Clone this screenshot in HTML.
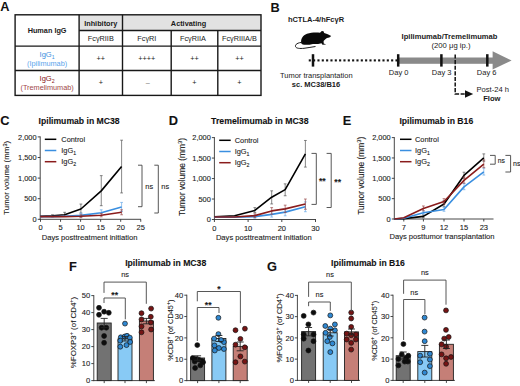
<!DOCTYPE html>
<html><head><meta charset="utf-8"><style>
html,body{margin:0;padding:0;background:#fff;width:520px;height:386px;overflow:hidden}
svg{display:block}
text{font-family:"Liberation Sans",sans-serif}
</style></head><body>
<svg width="520" height="386" viewBox="0 0 520 386">
<rect width="520" height="386" fill="#fff"/>
<text x="0.20" y="10.90" font-size="12.8" text-anchor="start" font-weight="bold" fill="#111" stroke="#111" stroke-width="0" >A</text>
<rect x="79.1" y="14.8" width="181.9" height="15.7" fill="#e2e2e2"/>
<rect x="15.1" y="14.8" width="245.9" height="80.60000000000001" fill="none" stroke="#181818" stroke-width="1.4"/>
<line x1="79.10" y1="14.80" x2="79.10" y2="95.40" stroke="#181818" stroke-width="1.4" />
<line x1="122.50" y1="14.80" x2="122.50" y2="95.40" stroke="#181818" stroke-width="1.4" />
<line x1="171.20" y1="30.50" x2="171.20" y2="95.40" stroke="#181818" stroke-width="1.4" />
<line x1="217.80" y1="30.50" x2="217.80" y2="95.40" stroke="#181818" stroke-width="1.4" />
<line x1="79.10" y1="30.50" x2="261.00" y2="30.50" stroke="#181818" stroke-width="1.4" />
<line x1="15.10" y1="46.10" x2="261.00" y2="46.10" stroke="#181818" stroke-width="1.4" />
<line x1="15.10" y1="70.50" x2="261.00" y2="70.50" stroke="#181818" stroke-width="1.4" />
<text x="47.10" y="33.30" font-size="7.3" text-anchor="middle" font-weight="bold" fill="#1a1a1a" stroke="#1a1a1a" stroke-width="0" >Human IgG</text>
<text x="100.80" y="25.70" font-size="7.3" text-anchor="middle" font-weight="bold" fill="#1a1a1a" stroke="#1a1a1a" stroke-width="0" >Inhibitory</text>
<text x="188.50" y="25.60" font-size="7.3" text-anchor="middle" font-weight="bold" fill="#1a1a1a" stroke="#1a1a1a" stroke-width="0" >Activating</text>
<text x="100.80" y="40.80" font-size="7.3" text-anchor="middle" font-weight="normal" fill="#1a1a1a" stroke="#1a1a1a" stroke-width="0" >FcγRIIB</text>
<text x="146.85" y="40.80" font-size="7.3" text-anchor="middle" font-weight="normal" fill="#1a1a1a" stroke="#1a1a1a" stroke-width="0" >FcγRI</text>
<text x="193.00" y="40.80" font-size="7.3" text-anchor="middle" font-weight="normal" fill="#1a1a1a" stroke="#1a1a1a" stroke-width="0" >FcγRIIA</text>
<text x="239.40" y="40.80" font-size="7.3" text-anchor="middle" font-weight="normal" fill="#1a1a1a" stroke="#1a1a1a" stroke-width="0" >FcγRIIIA/B</text>
<text x="47.10" y="56.80" font-size="7.6" text-anchor="middle" font-weight="normal" fill="#3d8fe0" stroke="#3d8fe0" stroke-width="0" >IgG<tspan font-size="5.2" dy="1.8">1</tspan></text>
<text x="47.10" y="65.60" font-size="7.3" text-anchor="middle" font-weight="normal" fill="#5aa5ec" stroke="#5aa5ec" stroke-width="0" >(Ipilimumab)</text>
<text x="47.10" y="80.80" font-size="7.6" text-anchor="middle" font-weight="normal" fill="#8a2020" stroke="#8a2020" stroke-width="0" >IgG<tspan font-size="5.2" dy="1.8">2</tspan></text>
<text x="47.10" y="90.20" font-size="7.3" text-anchor="middle" font-weight="normal" fill="#a04848" stroke="#a04848" stroke-width="0" >(Tremelimumab)</text>
<text x="100.80" y="61.00" font-size="7.3" text-anchor="middle" font-weight="normal" fill="#1a1a1a" stroke="#1a1a1a" stroke-width="0" >++</text>
<text x="146.85" y="61.00" font-size="7.3" text-anchor="middle" font-weight="normal" fill="#1a1a1a" stroke="#1a1a1a" stroke-width="0" >++++</text>
<text x="194.50" y="61.00" font-size="7.3" text-anchor="middle" font-weight="normal" fill="#1a1a1a" stroke="#1a1a1a" stroke-width="0" >++</text>
<text x="239.40" y="61.00" font-size="7.3" text-anchor="middle" font-weight="normal" fill="#1a1a1a" stroke="#1a1a1a" stroke-width="0" >++</text>
<text x="100.80" y="85.20" font-size="7.3" text-anchor="middle" font-weight="normal" fill="#1a1a1a" stroke="#1a1a1a" stroke-width="0" >+</text>
<text x="147.85" y="85.20" font-size="7.3" text-anchor="middle" font-weight="normal" fill="#777" stroke="#777" stroke-width="0" >–</text>
<text x="194.50" y="85.20" font-size="7.3" text-anchor="middle" font-weight="normal" fill="#1a1a1a" stroke="#1a1a1a" stroke-width="0" >+</text>
<text x="239.40" y="85.20" font-size="7.3" text-anchor="middle" font-weight="normal" fill="#1a1a1a" stroke="#1a1a1a" stroke-width="0" >+</text>
<text x="270.50" y="11.60" font-size="12.8" text-anchor="start" font-weight="bold" fill="#111" stroke="#111" stroke-width="0" >B</text>
<text x="316.00" y="21.80" font-size="7.5" text-anchor="middle" font-weight="bold" fill="#1a1a1a" stroke="#1a1a1a" stroke-width="0" >hCTLA-4/hFcγR</text>
<path d="M301.3,43.2 C300.5,39 302.8,35.3 307,33.8 C311,32.4 316,32.4 320,32.7 L321.8,30.9 L323.5,31.2 L324.2,33 C326.5,33.8 329,34.8 331.2,36 C330.2,37.3 328.6,37.7 327,38.1 C325.5,39.3 324.5,40.1 323.6,41 L323.7,43.4 L326.2,44.4 L322.5,44.8 L321.5,43.2 C319,43.9 316,44.1 313,44 L309.5,44.8 L304,44.7 C302.6,44.6 301.6,44.1 301.3,43.2 Z" fill="#0a0a0a"/>
<path d="M303,42.3 C297.5,42.5 295,44.5 295.5,46.5 C296,48.5 300,48.7 304,48.3 C308,47.9 312,46.9 315.5,46.5" fill="none" stroke="#111" stroke-width="0.95"/>
<rect x="308.75" y="59.35" width="2.1" height="2.1" fill="#111"/>
<rect x="313.08" y="59.35" width="2.1" height="2.1" fill="#111"/>
<rect x="317.42" y="59.35" width="2.1" height="2.1" fill="#111"/>
<rect x="321.75" y="59.35" width="2.1" height="2.1" fill="#111"/>
<rect x="326.09" y="59.35" width="2.1" height="2.1" fill="#111"/>
<rect x="330.42" y="59.35" width="2.1" height="2.1" fill="#111"/>
<rect x="334.76" y="59.35" width="2.1" height="2.1" fill="#111"/>
<rect x="339.09" y="59.35" width="2.1" height="2.1" fill="#111"/>
<rect x="343.43" y="59.35" width="2.1" height="2.1" fill="#111"/>
<rect x="347.76" y="59.35" width="2.1" height="2.1" fill="#111"/>
<rect x="352.10" y="59.35" width="2.1" height="2.1" fill="#111"/>
<rect x="356.43" y="59.35" width="2.1" height="2.1" fill="#111"/>
<rect x="360.77" y="59.35" width="2.1" height="2.1" fill="#111"/>
<rect x="365.10" y="59.35" width="2.1" height="2.1" fill="#111"/>
<rect x="369.44" y="59.35" width="2.1" height="2.1" fill="#111"/>
<rect x="373.77" y="59.35" width="2.1" height="2.1" fill="#111"/>
<rect x="378.11" y="59.35" width="2.1" height="2.1" fill="#111"/>
<rect x="382.44" y="59.35" width="2.1" height="2.1" fill="#111"/>
<rect x="386.78" y="59.35" width="2.1" height="2.1" fill="#111"/>
<rect x="391.11" y="59.35" width="2.1" height="2.1" fill="#111"/>
<rect x="395.45" y="59.35" width="2.1" height="2.1" fill="#111"/>
<rect x="398" y="57.5" width="95.5" height="6.3" fill="#8a8a8a"/>
<polygon points="492.6,51.2 511.6,60.5 492.6,69.6" fill="#8a8a8a"/>
<rect x="311.75" y="54.2" width="2.5" height="12.4" fill="#111"/>
<rect x="396.95" y="54.2" width="2.5" height="12.4" fill="#111"/>
<rect x="440.15" y="54.2" width="2.5" height="12.4" fill="#111"/>
<rect x="486.05" y="54.2" width="2.5" height="12.4" fill="#111"/>
<text x="316.30" y="78.20" font-size="7.5" text-anchor="middle" font-weight="normal" fill="#1a1a1a" stroke="#1a1a1a" stroke-width="0" >Tumor transplantation</text>
<text x="316.00" y="87.20" font-size="7.5" text-anchor="middle" font-weight="bold" fill="#1a1a1a" stroke="#1a1a1a" stroke-width="0" >sc. MC38/B16</text>
<text x="398.60" y="75.30" font-size="7.5" text-anchor="middle" font-weight="normal" fill="#1a1a1a" stroke="#1a1a1a" stroke-width="0" >Day 0</text>
<text x="441.60" y="75.30" font-size="7.5" text-anchor="middle" font-weight="normal" fill="#1a1a1a" stroke="#1a1a1a" stroke-width="0" >Day 3</text>
<text x="486.60" y="75.30" font-size="7.5" text-anchor="middle" font-weight="normal" fill="#1a1a1a" stroke="#1a1a1a" stroke-width="0" >Day 6</text>
<text x="449.50" y="38.70" font-size="7.6" text-anchor="middle" font-weight="bold" fill="#1a1a1a" stroke="#1a1a1a" stroke-width="0" >Ipilimumab/Tremelimumab</text>
<text x="451.00" y="47.80" font-size="7.7" text-anchor="middle" font-weight="normal" fill="#1a1a1a" stroke="#1a1a1a" stroke-width="0" >(200 μg ip.)</text>
<path d="M455.2,54.5 L455.2,93.9 L466,93.9" fill="none" stroke="#111" stroke-width="1.5" stroke-dasharray="4.1,1.5"/>
<polygon points="465,90.2 473.2,94 465,97.8" fill="#111"/>
<text x="492.80" y="92.00" font-size="7.6" text-anchor="middle" font-weight="normal" fill="#1a1a1a" stroke="#1a1a1a" stroke-width="0" >Post-24 h</text>
<text x="491.80" y="101.40" font-size="7.6" text-anchor="middle" font-weight="bold" fill="#1a1a1a" stroke="#1a1a1a" stroke-width="0" >Flow</text>
<line x1="40.20" y1="136.40" x2="40.20" y2="219.80" stroke="#333" stroke-width="0.9" />
<line x1="39.70" y1="219.30" x2="141.00" y2="219.30" stroke="#333" stroke-width="0.9" />
<line x1="37.70" y1="219.30" x2="40.20" y2="219.30" stroke="#333" stroke-width="0.9" />
<text x="36.60" y="222.00" font-size="7.4" text-anchor="end" font-weight="normal" fill="#1a1a1a" stroke="#1a1a1a" stroke-width="0.1" >0</text>
<line x1="37.70" y1="198.70" x2="40.20" y2="198.70" stroke="#333" stroke-width="0.9" />
<text x="36.60" y="201.40" font-size="7.4" text-anchor="end" font-weight="normal" fill="#1a1a1a" stroke="#1a1a1a" stroke-width="0.1" >500</text>
<line x1="37.70" y1="178.10" x2="40.20" y2="178.10" stroke="#333" stroke-width="0.9" />
<text x="36.60" y="180.80" font-size="7.4" text-anchor="end" font-weight="normal" fill="#1a1a1a" stroke="#1a1a1a" stroke-width="0.1" >1,000</text>
<line x1="37.70" y1="157.50" x2="40.20" y2="157.50" stroke="#333" stroke-width="0.9" />
<text x="36.60" y="160.20" font-size="7.4" text-anchor="end" font-weight="normal" fill="#1a1a1a" stroke="#1a1a1a" stroke-width="0.1" >1,500</text>
<line x1="37.70" y1="136.90" x2="40.20" y2="136.90" stroke="#333" stroke-width="0.9" />
<text x="36.60" y="139.60" font-size="7.4" text-anchor="end" font-weight="normal" fill="#1a1a1a" stroke="#1a1a1a" stroke-width="0.1" >2,000</text>
<line x1="40.50" y1="219.30" x2="40.50" y2="221.80" stroke="#333" stroke-width="0.9" />
<text x="40.50" y="230.30" font-size="7.5" text-anchor="middle" font-weight="normal" fill="#1a1a1a" stroke="#1a1a1a" stroke-width="0.1" >0</text>
<line x1="60.55" y1="219.30" x2="60.55" y2="221.80" stroke="#333" stroke-width="0.9" />
<text x="60.55" y="230.30" font-size="7.5" text-anchor="middle" font-weight="normal" fill="#1a1a1a" stroke="#1a1a1a" stroke-width="0.1" >5</text>
<line x1="80.60" y1="219.30" x2="80.60" y2="221.80" stroke="#333" stroke-width="0.9" />
<text x="80.60" y="230.30" font-size="7.5" text-anchor="middle" font-weight="normal" fill="#1a1a1a" stroke="#1a1a1a" stroke-width="0.1" >10</text>
<line x1="100.65" y1="219.30" x2="100.65" y2="221.80" stroke="#333" stroke-width="0.9" />
<text x="100.65" y="230.30" font-size="7.5" text-anchor="middle" font-weight="normal" fill="#1a1a1a" stroke="#1a1a1a" stroke-width="0.1" >15</text>
<line x1="120.70" y1="219.30" x2="120.70" y2="221.80" stroke="#333" stroke-width="0.9" />
<text x="120.70" y="230.30" font-size="7.5" text-anchor="middle" font-weight="normal" fill="#1a1a1a" stroke="#1a1a1a" stroke-width="0.1" >20</text>
<line x1="140.75" y1="219.30" x2="140.75" y2="221.80" stroke="#333" stroke-width="0.9" />
<text x="140.75" y="230.30" font-size="7.5" text-anchor="middle" font-weight="normal" fill="#1a1a1a" stroke="#1a1a1a" stroke-width="0.1" >25</text>
<text x="89.60" y="239.70" font-size="7.6" text-anchor="middle" font-weight="normal" fill="#1a1a1a" stroke="#1a1a1a" stroke-width="0.1" >Days posttreatment initiation</text>
<text transform="translate(9.30,177.80) rotate(-90)" x="0" y="0" font-size="7.9" text-anchor="middle" fill="#1a1a1a" stroke="#1a1a1a" stroke-width="0.1">Tumor volume (mm<tspan font-size="5.53" dy="-2.77">3</tspan><tspan dy="2.77">)</tspan></text>
<text x="79.10" y="123.50" font-size="8.65" text-anchor="middle" font-weight="bold" fill="#111" stroke="#111" stroke-width="0.1" >Ipilimumab in MC38</text>
<text x="0.20" y="125.10" font-size="12.8" text-anchor="start" font-weight="bold" fill="#111" stroke="#111" stroke-width="0.1" >C</text>
<line x1="52.41" y1="216.83" x2="52.41" y2="214.77" stroke="#555" stroke-width="0.7" />
<line x1="51.01" y1="216.83" x2="53.81" y2="216.83" stroke="#555" stroke-width="0.7" />
<line x1="51.01" y1="214.77" x2="53.81" y2="214.77" stroke="#555" stroke-width="0.7" />
<line x1="64.62" y1="216.42" x2="64.62" y2="212.30" stroke="#555" stroke-width="0.7" />
<line x1="63.22" y1="216.42" x2="66.02" y2="216.42" stroke="#555" stroke-width="0.7" />
<line x1="63.22" y1="212.30" x2="66.02" y2="212.30" stroke="#555" stroke-width="0.7" />
<line x1="80.90" y1="213.12" x2="80.90" y2="204.06" stroke="#555" stroke-width="0.7" />
<line x1="79.50" y1="213.12" x2="82.30" y2="213.12" stroke="#555" stroke-width="0.7" />
<line x1="79.50" y1="204.06" x2="82.30" y2="204.06" stroke="#555" stroke-width="0.7" />
<line x1="101.25" y1="205.70" x2="101.25" y2="175.63" stroke="#555" stroke-width="0.7" />
<line x1="99.85" y1="205.70" x2="102.65" y2="205.70" stroke="#555" stroke-width="0.7" />
<line x1="99.85" y1="175.63" x2="102.65" y2="175.63" stroke="#555" stroke-width="0.7" />
<line x1="121.60" y1="192.93" x2="121.60" y2="140.20" stroke="#555" stroke-width="0.7" />
<line x1="120.20" y1="192.93" x2="123.00" y2="192.93" stroke="#555" stroke-width="0.7" />
<line x1="120.20" y1="140.20" x2="123.00" y2="140.20" stroke="#555" stroke-width="0.7" />
<polyline points="40.20,216.42 52.41,215.80 64.62,214.77 80.90,209.00 101.25,190.87 121.60,166.56" fill="none" stroke="#000" stroke-width="1.6" stroke-linejoin="round" />
<line x1="80.90" y1="217.24" x2="80.90" y2="213.12" stroke="#6aaae8" stroke-width="0.7" />
<line x1="79.50" y1="217.24" x2="82.30" y2="217.24" stroke="#6aaae8" stroke-width="0.7" />
<line x1="79.50" y1="213.12" x2="82.30" y2="213.12" stroke="#6aaae8" stroke-width="0.7" />
<line x1="101.25" y1="215.59" x2="101.25" y2="209.82" stroke="#6aaae8" stroke-width="0.7" />
<line x1="99.85" y1="215.59" x2="102.65" y2="215.59" stroke="#6aaae8" stroke-width="0.7" />
<line x1="99.85" y1="209.82" x2="102.65" y2="209.82" stroke="#6aaae8" stroke-width="0.7" />
<line x1="121.60" y1="211.47" x2="121.60" y2="202.41" stroke="#6aaae8" stroke-width="0.7" />
<line x1="120.20" y1="211.47" x2="123.00" y2="211.47" stroke="#6aaae8" stroke-width="0.7" />
<line x1="120.20" y1="202.41" x2="123.00" y2="202.41" stroke="#6aaae8" stroke-width="0.7" />
<polyline points="40.20,216.62 52.41,216.62 64.62,216.21 80.90,215.39 101.25,212.71 121.60,206.94" fill="none" stroke="#3a8fe0" stroke-width="1.6" stroke-linejoin="round" />
<line x1="80.90" y1="217.65" x2="80.90" y2="214.77" stroke="#9a4a4a" stroke-width="0.7" />
<line x1="79.50" y1="217.65" x2="82.30" y2="217.65" stroke="#9a4a4a" stroke-width="0.7" />
<line x1="79.50" y1="214.77" x2="82.30" y2="214.77" stroke="#9a4a4a" stroke-width="0.7" />
<line x1="101.25" y1="216.83" x2="101.25" y2="213.53" stroke="#9a4a4a" stroke-width="0.7" />
<line x1="99.85" y1="216.83" x2="102.65" y2="216.83" stroke="#9a4a4a" stroke-width="0.7" />
<line x1="99.85" y1="213.53" x2="102.65" y2="213.53" stroke="#9a4a4a" stroke-width="0.7" />
<line x1="121.60" y1="214.77" x2="121.60" y2="209.82" stroke="#9a4a4a" stroke-width="0.7" />
<line x1="120.20" y1="214.77" x2="123.00" y2="214.77" stroke="#9a4a4a" stroke-width="0.7" />
<line x1="120.20" y1="209.82" x2="123.00" y2="209.82" stroke="#9a4a4a" stroke-width="0.7" />
<polyline points="40.20,216.62 52.41,216.62 64.62,216.62 80.90,216.21 101.25,215.18 121.60,212.30" fill="none" stroke="#8a1c1c" stroke-width="1.6" stroke-linejoin="round" />
<line x1="44.80" y1="139.30" x2="56.30" y2="139.30" stroke="#000" stroke-width="1.5" />
<text x="61.30" y="142.00" font-size="7.4" text-anchor="start" font-weight="normal" fill="#1a1a1a" stroke="#1a1a1a" stroke-width="0.1" >Control</text>
<line x1="44.80" y1="150.50" x2="56.30" y2="150.50" stroke="#3a8fe0" stroke-width="1.5" />
<text x="61.30" y="153.20" font-size="7.4" text-anchor="start" font-weight="normal" fill="#1a1a1a" stroke="#1a1a1a" stroke-width="0.1" >IgG<tspan font-size="5.2" dy="2">1</tspan></text>
<line x1="44.80" y1="161.70" x2="56.30" y2="161.70" stroke="#8a1c1c" stroke-width="1.5" />
<text x="61.30" y="164.40" font-size="7.4" text-anchor="start" font-weight="normal" fill="#1a1a1a" stroke="#1a1a1a" stroke-width="0.1" >IgG<tspan font-size="5.2" dy="2">2</tspan></text>
<polyline points="138.00,165.20 142.00,165.20 142.00,206.70 138.00,206.70" fill="none" stroke="#444" stroke-width="0.9" stroke-linejoin="round" />
<text x="149.20" y="189.30" font-size="7.4" text-anchor="middle" font-weight="normal" fill="#1a1a1a" stroke="#1a1a1a" stroke-width="0.1" >ns</text>
<polyline points="154.30,165.20 158.30,165.20 158.30,213.00 154.30,213.00" fill="none" stroke="#444" stroke-width="0.9" stroke-linejoin="round" />
<text x="165.20" y="189.30" font-size="7.4" text-anchor="middle" font-weight="normal" fill="#1a1a1a" stroke="#1a1a1a" stroke-width="0.1" >ns</text>
<line x1="214.40" y1="137.10" x2="214.40" y2="220.00" stroke="#333" stroke-width="0.9" />
<line x1="213.90" y1="219.50" x2="316.00" y2="219.50" stroke="#333" stroke-width="0.9" />
<line x1="211.90" y1="219.50" x2="214.40" y2="219.50" stroke="#333" stroke-width="0.9" />
<text x="210.80" y="222.20" font-size="7.4" text-anchor="end" font-weight="normal" fill="#1a1a1a" stroke="#1a1a1a" stroke-width="0.1" >0</text>
<line x1="211.90" y1="199.03" x2="214.40" y2="199.03" stroke="#333" stroke-width="0.9" />
<text x="210.80" y="201.72" font-size="7.4" text-anchor="end" font-weight="normal" fill="#1a1a1a" stroke="#1a1a1a" stroke-width="0.1" >500</text>
<line x1="211.90" y1="178.55" x2="214.40" y2="178.55" stroke="#333" stroke-width="0.9" />
<text x="210.80" y="181.25" font-size="7.4" text-anchor="end" font-weight="normal" fill="#1a1a1a" stroke="#1a1a1a" stroke-width="0.1" >1,000</text>
<line x1="211.90" y1="158.07" x2="214.40" y2="158.07" stroke="#333" stroke-width="0.9" />
<text x="210.80" y="160.77" font-size="7.4" text-anchor="end" font-weight="normal" fill="#1a1a1a" stroke="#1a1a1a" stroke-width="0.1" >1,500</text>
<line x1="211.90" y1="137.60" x2="214.40" y2="137.60" stroke="#333" stroke-width="0.9" />
<text x="210.80" y="140.30" font-size="7.4" text-anchor="end" font-weight="normal" fill="#1a1a1a" stroke="#1a1a1a" stroke-width="0.1" >2,000</text>
<line x1="214.40" y1="219.50" x2="214.40" y2="222.00" stroke="#333" stroke-width="0.9" />
<text x="214.40" y="230.50" font-size="7.5" text-anchor="middle" font-weight="normal" fill="#1a1a1a" stroke="#1a1a1a" stroke-width="0.1" >0</text>
<line x1="248.10" y1="219.50" x2="248.10" y2="222.00" stroke="#333" stroke-width="0.9" />
<text x="248.10" y="230.50" font-size="7.5" text-anchor="middle" font-weight="normal" fill="#1a1a1a" stroke="#1a1a1a" stroke-width="0.1" >10</text>
<line x1="281.80" y1="219.50" x2="281.80" y2="222.00" stroke="#333" stroke-width="0.9" />
<text x="281.80" y="230.50" font-size="7.5" text-anchor="middle" font-weight="normal" fill="#1a1a1a" stroke="#1a1a1a" stroke-width="0.1" >20</text>
<line x1="315.50" y1="219.50" x2="315.50" y2="222.00" stroke="#333" stroke-width="0.9" />
<text x="315.50" y="230.50" font-size="7.5" text-anchor="middle" font-weight="normal" fill="#1a1a1a" stroke="#1a1a1a" stroke-width="0.1" >30</text>
<text x="263.80" y="239.90" font-size="7.6" text-anchor="middle" font-weight="normal" fill="#1a1a1a" stroke="#1a1a1a" stroke-width="0.1" >Days posttreatment initiation</text>
<text transform="translate(184.80,177.10) rotate(-90)" x="0" y="0" font-size="8.35" text-anchor="middle" fill="#1a1a1a" stroke="#1a1a1a" stroke-width="0.1">Tumor volume (mm<tspan font-size="5.84" dy="-2.92">3</tspan><tspan dy="2.92">)</tspan></text>
<text x="259.80" y="123.50" font-size="8.72" text-anchor="middle" font-weight="bold" fill="#111" stroke="#111" stroke-width="0.1" >Tremelimumab in MC38</text>
<text x="168.80" y="125.10" font-size="12.8" text-anchor="start" font-weight="bold" fill="#111" stroke="#111" stroke-width="0.1" >D</text>
<line x1="254.84" y1="212.54" x2="254.84" y2="207.62" stroke="#555" stroke-width="0.7" />
<line x1="253.44" y1="212.54" x2="256.24" y2="212.54" stroke="#555" stroke-width="0.7" />
<line x1="253.44" y1="207.62" x2="256.24" y2="207.62" stroke="#555" stroke-width="0.7" />
<line x1="271.69" y1="203.94" x2="271.69" y2="190.84" stroke="#555" stroke-width="0.7" />
<line x1="270.29" y1="203.94" x2="273.09" y2="203.94" stroke="#555" stroke-width="0.7" />
<line x1="270.29" y1="190.84" x2="273.09" y2="190.84" stroke="#555" stroke-width="0.7" />
<line x1="285.17" y1="195.75" x2="285.17" y2="183.87" stroke="#555" stroke-width="0.7" />
<line x1="283.77" y1="195.75" x2="286.57" y2="195.75" stroke="#555" stroke-width="0.7" />
<line x1="283.77" y1="183.87" x2="286.57" y2="183.87" stroke="#555" stroke-width="0.7" />
<line x1="305.39" y1="167.08" x2="305.39" y2="140.47" stroke="#555" stroke-width="0.7" />
<line x1="303.99" y1="167.08" x2="306.79" y2="167.08" stroke="#555" stroke-width="0.7" />
<line x1="303.99" y1="140.47" x2="306.79" y2="140.47" stroke="#555" stroke-width="0.7" />
<polyline points="214.40,216.84 234.62,215.81 254.84,210.49 271.69,197.18 285.17,189.61 305.39,153.98" fill="none" stroke="#000" stroke-width="1.6" stroke-linejoin="round" />
<line x1="254.84" y1="218.27" x2="254.84" y2="215.00" stroke="#6aaae8" stroke-width="0.7" />
<line x1="253.44" y1="218.27" x2="256.24" y2="218.27" stroke="#6aaae8" stroke-width="0.7" />
<line x1="253.44" y1="215.00" x2="256.24" y2="215.00" stroke="#6aaae8" stroke-width="0.7" />
<line x1="271.69" y1="217.04" x2="271.69" y2="211.31" stroke="#6aaae8" stroke-width="0.7" />
<line x1="270.29" y1="217.04" x2="273.09" y2="217.04" stroke="#6aaae8" stroke-width="0.7" />
<line x1="270.29" y1="211.31" x2="273.09" y2="211.31" stroke="#6aaae8" stroke-width="0.7" />
<line x1="285.17" y1="215.81" x2="285.17" y2="208.85" stroke="#6aaae8" stroke-width="0.7" />
<line x1="283.77" y1="215.81" x2="286.57" y2="215.81" stroke="#6aaae8" stroke-width="0.7" />
<line x1="283.77" y1="208.85" x2="286.57" y2="208.85" stroke="#6aaae8" stroke-width="0.7" />
<line x1="305.39" y1="211.72" x2="305.39" y2="201.89" stroke="#6aaae8" stroke-width="0.7" />
<line x1="303.99" y1="211.72" x2="306.79" y2="211.72" stroke="#6aaae8" stroke-width="0.7" />
<line x1="303.99" y1="201.89" x2="306.79" y2="201.89" stroke="#6aaae8" stroke-width="0.7" />
<polyline points="214.40,217.25 234.62,217.25 254.84,216.63 271.69,214.38 285.17,212.13 305.39,206.81" fill="none" stroke="#3a8fe0" stroke-width="1.6" stroke-linejoin="round" />
<line x1="254.84" y1="217.45" x2="254.84" y2="213.77" stroke="#9a4a4a" stroke-width="0.7" />
<line x1="253.44" y1="217.45" x2="256.24" y2="217.45" stroke="#9a4a4a" stroke-width="0.7" />
<line x1="253.44" y1="213.77" x2="256.24" y2="213.77" stroke="#9a4a4a" stroke-width="0.7" />
<line x1="271.69" y1="214.18" x2="271.69" y2="207.62" stroke="#9a4a4a" stroke-width="0.7" />
<line x1="270.29" y1="214.18" x2="273.09" y2="214.18" stroke="#9a4a4a" stroke-width="0.7" />
<line x1="270.29" y1="207.62" x2="273.09" y2="207.62" stroke="#9a4a4a" stroke-width="0.7" />
<line x1="285.17" y1="212.54" x2="285.17" y2="205.17" stroke="#9a4a4a" stroke-width="0.7" />
<line x1="283.77" y1="212.54" x2="286.57" y2="212.54" stroke="#9a4a4a" stroke-width="0.7" />
<line x1="283.77" y1="205.17" x2="286.57" y2="205.17" stroke="#9a4a4a" stroke-width="0.7" />
<line x1="305.39" y1="209.26" x2="305.39" y2="199.03" stroke="#9a4a4a" stroke-width="0.7" />
<line x1="303.99" y1="209.26" x2="306.79" y2="209.26" stroke="#9a4a4a" stroke-width="0.7" />
<line x1="303.99" y1="199.03" x2="306.79" y2="199.03" stroke="#9a4a4a" stroke-width="0.7" />
<polyline points="214.40,217.04 234.62,217.04 254.84,215.61 271.69,210.90 285.17,208.85 305.39,203.94" fill="none" stroke="#8a1c1c" stroke-width="1.6" stroke-linejoin="round" />
<line x1="219.20" y1="140.30" x2="230.70" y2="140.30" stroke="#000" stroke-width="1.5" />
<text x="234.70" y="143.00" font-size="7.4" text-anchor="start" font-weight="normal" fill="#1a1a1a" stroke="#1a1a1a" stroke-width="0.1" >Control</text>
<line x1="219.20" y1="151.50" x2="230.70" y2="151.50" stroke="#3a8fe0" stroke-width="1.5" />
<text x="234.70" y="154.20" font-size="7.4" text-anchor="start" font-weight="normal" fill="#1a1a1a" stroke="#1a1a1a" stroke-width="0.1" >IgG<tspan font-size="5.2" dy="2">1</tspan></text>
<line x1="219.20" y1="162.70" x2="230.70" y2="162.70" stroke="#8a1c1c" stroke-width="1.5" />
<text x="234.70" y="165.40" font-size="7.4" text-anchor="start" font-weight="normal" fill="#1a1a1a" stroke="#1a1a1a" stroke-width="0.1" >IgG<tspan font-size="5.2" dy="2">2</tspan></text>
<polyline points="311.50,153.40 316.30,153.40 316.30,204.40 311.50,204.40" fill="none" stroke="#444" stroke-width="0.9" stroke-linejoin="round" />
<text x="322.30" y="183.60" font-size="8.6" text-anchor="middle" font-weight="bold" fill="#1a1a1a" stroke="#1a1a1a" stroke-width="0.1" >**</text>
<polyline points="326.60,153.40 331.20,153.40 331.20,207.50 326.60,207.50" fill="none" stroke="#444" stroke-width="0.9" stroke-linejoin="round" />
<text x="337.70" y="185.20" font-size="8.6" text-anchor="middle" font-weight="bold" fill="#1a1a1a" stroke="#1a1a1a" stroke-width="0.1" >**</text>
<line x1="394.30" y1="137.10" x2="394.30" y2="219.50" stroke="#333" stroke-width="0.9" />
<line x1="393.80" y1="219.00" x2="493.50" y2="219.00" stroke="#333" stroke-width="0.9" />
<line x1="391.80" y1="219.00" x2="394.30" y2="219.00" stroke="#333" stroke-width="0.9" />
<text x="390.70" y="221.70" font-size="7.4" text-anchor="end" font-weight="normal" fill="#1a1a1a" stroke="#1a1a1a" stroke-width="0.1" >0</text>
<line x1="391.80" y1="198.65" x2="394.30" y2="198.65" stroke="#333" stroke-width="0.9" />
<text x="390.70" y="201.35" font-size="7.4" text-anchor="end" font-weight="normal" fill="#1a1a1a" stroke="#1a1a1a" stroke-width="0.1" >500</text>
<line x1="391.80" y1="178.30" x2="394.30" y2="178.30" stroke="#333" stroke-width="0.9" />
<text x="390.70" y="181.00" font-size="7.4" text-anchor="end" font-weight="normal" fill="#1a1a1a" stroke="#1a1a1a" stroke-width="0.1" >1,000</text>
<line x1="391.80" y1="157.95" x2="394.30" y2="157.95" stroke="#333" stroke-width="0.9" />
<text x="390.70" y="160.65" font-size="7.4" text-anchor="end" font-weight="normal" fill="#1a1a1a" stroke="#1a1a1a" stroke-width="0.1" >1,500</text>
<line x1="391.80" y1="137.60" x2="394.30" y2="137.60" stroke="#333" stroke-width="0.9" />
<text x="390.70" y="140.30" font-size="7.4" text-anchor="end" font-weight="normal" fill="#1a1a1a" stroke="#1a1a1a" stroke-width="0.1" >2,000</text>
<line x1="403.80" y1="219.00" x2="403.80" y2="221.50" stroke="#333" stroke-width="0.9" />
<text x="403.80" y="230.00" font-size="7.5" text-anchor="middle" font-weight="normal" fill="#1a1a1a" stroke="#1a1a1a" stroke-width="0.1" >7</text>
<line x1="423.40" y1="219.00" x2="423.40" y2="221.50" stroke="#333" stroke-width="0.9" />
<text x="423.40" y="230.00" font-size="7.5" text-anchor="middle" font-weight="normal" fill="#1a1a1a" stroke="#1a1a1a" stroke-width="0.1" >9</text>
<line x1="444.00" y1="219.00" x2="444.00" y2="221.50" stroke="#333" stroke-width="0.9" />
<text x="444.00" y="230.00" font-size="7.5" text-anchor="middle" font-weight="normal" fill="#1a1a1a" stroke="#1a1a1a" stroke-width="0.1" >12</text>
<line x1="464.00" y1="219.00" x2="464.00" y2="221.50" stroke="#333" stroke-width="0.9" />
<text x="464.00" y="230.00" font-size="7.5" text-anchor="middle" font-weight="normal" fill="#1a1a1a" stroke="#1a1a1a" stroke-width="0.1" >15</text>
<line x1="483.80" y1="219.00" x2="483.80" y2="221.50" stroke="#333" stroke-width="0.9" />
<text x="483.80" y="230.00" font-size="7.5" text-anchor="middle" font-weight="normal" fill="#1a1a1a" stroke="#1a1a1a" stroke-width="0.1" >23</text>
<text x="442.00" y="239.40" font-size="7.6" text-anchor="middle" font-weight="normal" fill="#1a1a1a" stroke="#1a1a1a" stroke-width="0.1" >Days posttumor transplantation</text>
<text transform="translate(364.20,175.80) rotate(-90)" x="0" y="0" font-size="8.35" text-anchor="middle" fill="#1a1a1a" stroke="#1a1a1a" stroke-width="0.1">Tumor volume (mm<tspan font-size="5.84" dy="-2.92">3</tspan><tspan dy="2.92">)</tspan></text>
<text x="436.30" y="123.50" font-size="8.65" text-anchor="middle" font-weight="bold" fill="#111" stroke="#111" stroke-width="0.1" >Ipilimumab in B16</text>
<text x="342.80" y="125.10" font-size="12.8" text-anchor="start" font-weight="bold" fill="#111" stroke="#111" stroke-width="0.1" >E</text>
<line x1="423.40" y1="217.78" x2="423.40" y2="214.93" stroke="#555" stroke-width="0.7" />
<line x1="422.00" y1="217.78" x2="424.80" y2="217.78" stroke="#555" stroke-width="0.7" />
<line x1="422.00" y1="214.93" x2="424.80" y2="214.93" stroke="#555" stroke-width="0.7" />
<line x1="444.00" y1="206.79" x2="444.00" y2="200.69" stroke="#555" stroke-width="0.7" />
<line x1="442.60" y1="206.79" x2="445.40" y2="206.79" stroke="#555" stroke-width="0.7" />
<line x1="442.60" y1="200.69" x2="445.40" y2="200.69" stroke="#555" stroke-width="0.7" />
<line x1="464.00" y1="178.30" x2="464.00" y2="172.19" stroke="#555" stroke-width="0.7" />
<line x1="462.60" y1="178.30" x2="465.40" y2="178.30" stroke="#555" stroke-width="0.7" />
<line x1="462.60" y1="172.19" x2="465.40" y2="172.19" stroke="#555" stroke-width="0.7" />
<line x1="483.80" y1="161.21" x2="483.80" y2="153.88" stroke="#555" stroke-width="0.7" />
<line x1="482.40" y1="161.21" x2="485.20" y2="161.21" stroke="#555" stroke-width="0.7" />
<line x1="482.40" y1="153.88" x2="485.20" y2="153.88" stroke="#555" stroke-width="0.7" />
<polyline points="394.30,219.00 403.80,218.59 423.40,216.35 444.00,203.94 464.00,175.45 483.80,157.95" fill="none" stroke="#000" stroke-width="1.6" stroke-linejoin="round" />
<line x1="423.40" y1="214.12" x2="423.40" y2="210.86" stroke="#6aaae8" stroke-width="0.7" />
<line x1="422.00" y1="214.12" x2="424.80" y2="214.12" stroke="#6aaae8" stroke-width="0.7" />
<line x1="422.00" y1="210.86" x2="424.80" y2="210.86" stroke="#6aaae8" stroke-width="0.7" />
<line x1="444.00" y1="211.27" x2="444.00" y2="207.20" stroke="#6aaae8" stroke-width="0.7" />
<line x1="442.60" y1="211.27" x2="445.40" y2="211.27" stroke="#6aaae8" stroke-width="0.7" />
<line x1="442.60" y1="207.20" x2="445.40" y2="207.20" stroke="#6aaae8" stroke-width="0.7" />
<line x1="464.00" y1="189.70" x2="464.00" y2="183.59" stroke="#6aaae8" stroke-width="0.7" />
<line x1="462.60" y1="189.70" x2="465.40" y2="189.70" stroke="#6aaae8" stroke-width="0.7" />
<line x1="462.60" y1="183.59" x2="465.40" y2="183.59" stroke="#6aaae8" stroke-width="0.7" />
<line x1="483.80" y1="175.04" x2="483.80" y2="168.12" stroke="#6aaae8" stroke-width="0.7" />
<line x1="482.40" y1="175.04" x2="485.20" y2="175.04" stroke="#6aaae8" stroke-width="0.7" />
<line x1="482.40" y1="168.12" x2="485.20" y2="168.12" stroke="#6aaae8" stroke-width="0.7" />
<polyline points="394.30,219.00 403.80,218.19 423.40,212.69 444.00,209.44 464.00,186.85 483.80,171.79" fill="none" stroke="#3a8fe0" stroke-width="1.6" stroke-linejoin="round" />
<line x1="423.40" y1="210.86" x2="423.40" y2="205.98" stroke="#9a4a4a" stroke-width="0.7" />
<line x1="422.00" y1="210.86" x2="424.80" y2="210.86" stroke="#9a4a4a" stroke-width="0.7" />
<line x1="422.00" y1="205.98" x2="424.80" y2="205.98" stroke="#9a4a4a" stroke-width="0.7" />
<line x1="444.00" y1="203.94" x2="444.00" y2="198.65" stroke="#9a4a4a" stroke-width="0.7" />
<line x1="442.60" y1="203.94" x2="445.40" y2="203.94" stroke="#9a4a4a" stroke-width="0.7" />
<line x1="442.60" y1="198.65" x2="445.40" y2="198.65" stroke="#9a4a4a" stroke-width="0.7" />
<line x1="464.00" y1="183.18" x2="464.00" y2="177.08" stroke="#9a4a4a" stroke-width="0.7" />
<line x1="462.60" y1="183.18" x2="465.40" y2="183.18" stroke="#9a4a4a" stroke-width="0.7" />
<line x1="462.60" y1="177.08" x2="465.40" y2="177.08" stroke="#9a4a4a" stroke-width="0.7" />
<line x1="483.80" y1="167.72" x2="483.80" y2="159.98" stroke="#9a4a4a" stroke-width="0.7" />
<line x1="482.40" y1="167.72" x2="485.20" y2="167.72" stroke="#9a4a4a" stroke-width="0.7" />
<line x1="482.40" y1="159.98" x2="485.20" y2="159.98" stroke="#9a4a4a" stroke-width="0.7" />
<polyline points="394.30,219.00 403.80,217.78 423.40,208.42 444.00,201.50 464.00,180.34 483.80,164.06" fill="none" stroke="#8a1c1c" stroke-width="1.6" stroke-linejoin="round" />
<line x1="400.00" y1="139.30" x2="411.50" y2="139.30" stroke="#000" stroke-width="1.5" />
<text x="415.00" y="142.00" font-size="7.4" text-anchor="start" font-weight="normal" fill="#1a1a1a" stroke="#1a1a1a" stroke-width="0.1" >Control</text>
<line x1="400.00" y1="150.50" x2="411.50" y2="150.50" stroke="#3a8fe0" stroke-width="1.5" />
<text x="415.00" y="153.20" font-size="7.4" text-anchor="start" font-weight="normal" fill="#1a1a1a" stroke="#1a1a1a" stroke-width="0.1" >IgG<tspan font-size="5.2" dy="2">1</tspan></text>
<line x1="400.00" y1="161.70" x2="411.50" y2="161.70" stroke="#8a1c1c" stroke-width="1.5" />
<text x="415.00" y="164.40" font-size="7.4" text-anchor="start" font-weight="normal" fill="#1a1a1a" stroke="#1a1a1a" stroke-width="0.1" >IgG<tspan font-size="5.2" dy="2">2</tspan></text>
<polyline points="490.00,155.40 495.20,155.40 495.20,164.20 490.00,164.20" fill="none" stroke="#444" stroke-width="0.9" stroke-linejoin="round" />
<text x="501.30" y="162.90" font-size="6.8" text-anchor="middle" font-weight="normal" fill="#1a1a1a" stroke="#1a1a1a" stroke-width="0.1" >ns</text>
<polyline points="505.40,155.40 510.60,155.40 510.60,172.00 505.40,172.00" fill="none" stroke="#444" stroke-width="0.9" stroke-linejoin="round" />
<text x="513.00" y="166.40" font-size="7.0" text-anchor="start" font-weight="normal" fill="#1a1a1a" stroke="#1a1a1a" stroke-width="0.1" >ns</text>
<text x="69.00" y="270.60" font-size="12.8" text-anchor="start" font-weight="bold" fill="#111" stroke="#111" stroke-width="0.1" >F</text>
<text x="165.70" y="265.50" font-size="8.65" text-anchor="middle" font-weight="bold" fill="#111" stroke="#111" stroke-width="0.1" >Ipilimumab in MC38</text>
<line x1="93.80" y1="295.10" x2="93.80" y2="381.10" stroke="#333" stroke-width="0.9" />
<line x1="93.30" y1="380.60" x2="154.90" y2="380.60" stroke="#333" stroke-width="0.9" />
<line x1="91.30" y1="380.60" x2="93.80" y2="380.60" stroke="#333" stroke-width="0.9" />
<text x="90.30" y="383.30" font-size="7.6" text-anchor="end" font-weight="normal" fill="#1a1a1a" stroke="#1a1a1a" stroke-width="0.1" >0</text>
<line x1="91.30" y1="363.60" x2="93.80" y2="363.60" stroke="#333" stroke-width="0.9" />
<text x="90.30" y="366.30" font-size="7.6" text-anchor="end" font-weight="normal" fill="#1a1a1a" stroke="#1a1a1a" stroke-width="0.1" >10</text>
<line x1="91.30" y1="346.60" x2="93.80" y2="346.60" stroke="#333" stroke-width="0.9" />
<text x="90.30" y="349.30" font-size="7.6" text-anchor="end" font-weight="normal" fill="#1a1a1a" stroke="#1a1a1a" stroke-width="0.1" >20</text>
<line x1="91.30" y1="329.60" x2="93.80" y2="329.60" stroke="#333" stroke-width="0.9" />
<text x="90.30" y="332.30" font-size="7.6" text-anchor="end" font-weight="normal" fill="#1a1a1a" stroke="#1a1a1a" stroke-width="0.1" >30</text>
<line x1="91.30" y1="312.60" x2="93.80" y2="312.60" stroke="#333" stroke-width="0.9" />
<text x="90.30" y="315.30" font-size="7.6" text-anchor="end" font-weight="normal" fill="#1a1a1a" stroke="#1a1a1a" stroke-width="0.1" >40</text>
<line x1="91.30" y1="295.60" x2="93.80" y2="295.60" stroke="#333" stroke-width="0.9" />
<text x="90.30" y="298.30" font-size="7.6" text-anchor="end" font-weight="normal" fill="#1a1a1a" stroke="#1a1a1a" stroke-width="0.1" >50</text>
<rect x="97.20" y="323.00" width="14.0" height="57.60" fill="#727272" stroke="#222" stroke-width="0.9"/>
<line x1="104.20" y1="380.60" x2="104.20" y2="383.10" stroke="#333" stroke-width="0.9" />
<circle cx="99.00" cy="307.80" r="2.45" fill="#0d0d0d" stroke="#111" stroke-width="0.7"/>
<circle cx="99.00" cy="314.80" r="2.45" fill="#0d0d0d" stroke="#111" stroke-width="0.7"/>
<circle cx="104.10" cy="311.70" r="2.45" fill="#0d0d0d" stroke="#111" stroke-width="0.7"/>
<circle cx="108.80" cy="312.80" r="2.45" fill="#0d0d0d" stroke="#111" stroke-width="0.7"/>
<circle cx="101.60" cy="327.70" r="2.45" fill="#0d0d0d" stroke="#111" stroke-width="0.7"/>
<circle cx="106.30" cy="327.70" r="2.45" fill="#0d0d0d" stroke="#111" stroke-width="0.7"/>
<circle cx="104.10" cy="336.00" r="2.45" fill="#0d0d0d" stroke="#111" stroke-width="0.7"/>
<circle cx="104.10" cy="342.80" r="2.45" fill="#0d0d0d" stroke="#111" stroke-width="0.7"/>
<line x1="104.20" y1="327.70" x2="104.20" y2="318.40" stroke="#222" stroke-width="0.9" />
<line x1="100.70" y1="318.40" x2="107.70" y2="318.40" stroke="#222" stroke-width="0.9" />
<line x1="100.70" y1="327.70" x2="107.70" y2="327.70" stroke="#222" stroke-width="0.9" />
<rect x="118.00" y="338.90" width="14.0" height="41.70" fill="#88caf5" stroke="#222" stroke-width="0.9"/>
<line x1="125.00" y1="380.60" x2="125.00" y2="383.10" stroke="#333" stroke-width="0.9" />
<circle cx="125.00" cy="323.60" r="2.45" fill="#2f88d2" stroke="#111" stroke-width="0.7"/>
<circle cx="120.80" cy="337.30" r="2.45" fill="#2f88d2" stroke="#111" stroke-width="0.7"/>
<circle cx="124.70" cy="336.50" r="2.45" fill="#2f88d2" stroke="#111" stroke-width="0.7"/>
<circle cx="127.00" cy="335.80" r="2.45" fill="#2f88d2" stroke="#111" stroke-width="0.7"/>
<circle cx="129.80" cy="337.60" r="2.45" fill="#2f88d2" stroke="#111" stroke-width="0.7"/>
<circle cx="120.30" cy="340.70" r="2.45" fill="#2f88d2" stroke="#111" stroke-width="0.7"/>
<circle cx="130.10" cy="342.00" r="2.45" fill="#2f88d2" stroke="#111" stroke-width="0.7"/>
<circle cx="126.50" cy="345.10" r="2.45" fill="#2f88d2" stroke="#111" stroke-width="0.7"/>
<circle cx="120.30" cy="346.70" r="2.45" fill="#2f88d2" stroke="#111" stroke-width="0.7"/>
<line x1="125.00" y1="341.00" x2="125.00" y2="336.60" stroke="#222" stroke-width="0.9" />
<line x1="121.50" y1="336.60" x2="128.50" y2="336.60" stroke="#222" stroke-width="0.9" />
<line x1="121.50" y1="341.00" x2="128.50" y2="341.00" stroke="#222" stroke-width="0.9" />
<rect x="139.40" y="321.00" width="14.0" height="59.60" fill="#c57f77" stroke="#222" stroke-width="0.9"/>
<line x1="146.40" y1="380.60" x2="146.40" y2="383.10" stroke="#333" stroke-width="0.9" />
<circle cx="141.50" cy="313.20" r="2.45" fill="#761414" stroke="#111" stroke-width="0.7"/>
<circle cx="151.10" cy="308.60" r="2.45" fill="#761414" stroke="#111" stroke-width="0.7"/>
<circle cx="141.50" cy="319.40" r="2.45" fill="#761414" stroke="#111" stroke-width="0.7"/>
<circle cx="150.80" cy="316.80" r="2.45" fill="#761414" stroke="#111" stroke-width="0.7"/>
<circle cx="141.50" cy="326.40" r="2.45" fill="#761414" stroke="#111" stroke-width="0.7"/>
<circle cx="150.80" cy="322.50" r="2.45" fill="#761414" stroke="#111" stroke-width="0.7"/>
<circle cx="141.50" cy="332.30" r="2.45" fill="#761414" stroke="#111" stroke-width="0.7"/>
<circle cx="151.10" cy="329.50" r="2.45" fill="#761414" stroke="#111" stroke-width="0.7"/>
<line x1="146.40" y1="323.80" x2="146.40" y2="318.40" stroke="#222" stroke-width="0.9" />
<line x1="142.90" y1="318.40" x2="149.90" y2="318.40" stroke="#222" stroke-width="0.9" />
<line x1="142.90" y1="323.80" x2="149.90" y2="323.80" stroke="#222" stroke-width="0.9" />
<text transform="translate(75.80,332.50) rotate(-90)" x="0" y="0" font-size="7.9" text-anchor="middle" fill="#1a1a1a" stroke="#1a1a1a" stroke-width="0.1">%FOXP3<tspan font-size="5.53" dy="-2.77">+</tspan><tspan dy="2.77"> (of CD4</tspan><tspan font-size="5.53" dy="-2.77">+</tspan><tspan dy="2.77">)</tspan></text>
<polyline points="104.00,292.90 104.00,282.10 146.30,282.10 146.30,303.80" fill="none" stroke="#444" stroke-width="0.9" stroke-linejoin="round" />
<text x="125.15" y="277.20" font-size="7.4" text-anchor="middle" font-weight="normal" fill="#1a1a1a" stroke="#1a1a1a" stroke-width="0.1" >ns</text>
<polyline points="104.00,303.00 104.00,298.00 125.30,298.00 125.30,319.30" fill="none" stroke="#444" stroke-width="0.9" stroke-linejoin="round" />
<text x="114.65" y="298.20" font-size="8.6" text-anchor="middle" font-weight="bold" fill="#1a1a1a" stroke="#1a1a1a" stroke-width="0.1" >**</text>
<line x1="186.80" y1="294.70" x2="186.80" y2="381.10" stroke="#333" stroke-width="0.9" />
<line x1="186.30" y1="380.60" x2="248.70" y2="380.60" stroke="#333" stroke-width="0.9" />
<line x1="184.30" y1="380.60" x2="186.80" y2="380.60" stroke="#333" stroke-width="0.9" />
<text x="183.30" y="383.30" font-size="7.6" text-anchor="end" font-weight="normal" fill="#1a1a1a" stroke="#1a1a1a" stroke-width="0.1" >0</text>
<line x1="184.30" y1="359.25" x2="186.80" y2="359.25" stroke="#333" stroke-width="0.9" />
<text x="183.30" y="361.95" font-size="7.6" text-anchor="end" font-weight="normal" fill="#1a1a1a" stroke="#1a1a1a" stroke-width="0.1" >10</text>
<line x1="184.30" y1="337.90" x2="186.80" y2="337.90" stroke="#333" stroke-width="0.9" />
<text x="183.30" y="340.60" font-size="7.6" text-anchor="end" font-weight="normal" fill="#1a1a1a" stroke="#1a1a1a" stroke-width="0.1" >20</text>
<line x1="184.30" y1="316.55" x2="186.80" y2="316.55" stroke="#333" stroke-width="0.9" />
<text x="183.30" y="319.25" font-size="7.6" text-anchor="end" font-weight="normal" fill="#1a1a1a" stroke="#1a1a1a" stroke-width="0.1" >30</text>
<line x1="184.30" y1="295.20" x2="186.80" y2="295.20" stroke="#333" stroke-width="0.9" />
<text x="183.30" y="297.90" font-size="7.6" text-anchor="end" font-weight="normal" fill="#1a1a1a" stroke="#1a1a1a" stroke-width="0.1" >40</text>
<rect x="190.60" y="358.00" width="14.0" height="22.60" fill="#727272" stroke="#222" stroke-width="0.9"/>
<line x1="197.60" y1="380.60" x2="197.60" y2="383.10" stroke="#333" stroke-width="0.9" />
<circle cx="197.30" cy="345.10" r="2.45" fill="#0d0d0d" stroke="#111" stroke-width="0.7"/>
<circle cx="192.80" cy="358.00" r="2.45" fill="#0d0d0d" stroke="#111" stroke-width="0.7"/>
<circle cx="196.00" cy="359.00" r="2.45" fill="#0d0d0d" stroke="#111" stroke-width="0.7"/>
<circle cx="198.60" cy="359.60" r="2.45" fill="#0d0d0d" stroke="#111" stroke-width="0.7"/>
<circle cx="201.80" cy="360.90" r="2.45" fill="#0d0d0d" stroke="#111" stroke-width="0.7"/>
<circle cx="203.10" cy="362.20" r="2.45" fill="#0d0d0d" stroke="#111" stroke-width="0.7"/>
<circle cx="194.70" cy="361.60" r="2.45" fill="#0d0d0d" stroke="#111" stroke-width="0.7"/>
<circle cx="200.30" cy="365.40" r="2.45" fill="#0d0d0d" stroke="#111" stroke-width="0.7"/>
<circle cx="195.10" cy="368.00" r="2.45" fill="#0d0d0d" stroke="#111" stroke-width="0.7"/>
<line x1="197.60" y1="360.20" x2="197.60" y2="355.80" stroke="#222" stroke-width="0.9" />
<line x1="194.10" y1="355.80" x2="201.10" y2="355.80" stroke="#222" stroke-width="0.9" />
<line x1="194.10" y1="360.20" x2="201.10" y2="360.20" stroke="#222" stroke-width="0.9" />
<rect x="211.90" y="338.50" width="14.0" height="42.10" fill="#88caf5" stroke="#222" stroke-width="0.9"/>
<line x1="218.90" y1="380.60" x2="218.90" y2="383.10" stroke="#333" stroke-width="0.9" />
<circle cx="218.40" cy="317.80" r="2.45" fill="#2f88d2" stroke="#111" stroke-width="0.7"/>
<circle cx="218.40" cy="334.10" r="2.45" fill="#2f88d2" stroke="#111" stroke-width="0.7"/>
<circle cx="214.10" cy="338.60" r="2.45" fill="#2f88d2" stroke="#111" stroke-width="0.7"/>
<circle cx="223.90" cy="342.10" r="2.45" fill="#2f88d2" stroke="#111" stroke-width="0.7"/>
<circle cx="214.50" cy="345.40" r="2.45" fill="#2f88d2" stroke="#111" stroke-width="0.7"/>
<circle cx="218.90" cy="348.00" r="2.45" fill="#2f88d2" stroke="#111" stroke-width="0.7"/>
<circle cx="223.90" cy="349.00" r="2.45" fill="#2f88d2" stroke="#111" stroke-width="0.7"/>
<circle cx="214.80" cy="350.50" r="2.45" fill="#2f88d2" stroke="#111" stroke-width="0.7"/>
<circle cx="221.00" cy="340.00" r="2.45" fill="#2f88d2" stroke="#111" stroke-width="0.7"/>
<line x1="218.90" y1="341.50" x2="218.90" y2="335.50" stroke="#222" stroke-width="0.9" />
<line x1="215.40" y1="335.50" x2="222.40" y2="335.50" stroke="#222" stroke-width="0.9" />
<line x1="215.40" y1="341.50" x2="222.40" y2="341.50" stroke="#222" stroke-width="0.9" />
<rect x="233.20" y="346.40" width="14.0" height="34.20" fill="#c57f77" stroke="#222" stroke-width="0.9"/>
<line x1="240.20" y1="380.60" x2="240.20" y2="383.10" stroke="#333" stroke-width="0.9" />
<circle cx="235.50" cy="330.20" r="2.45" fill="#761414" stroke="#111" stroke-width="0.7"/>
<circle cx="244.90" cy="328.70" r="2.45" fill="#761414" stroke="#111" stroke-width="0.7"/>
<circle cx="240.40" cy="338.90" r="2.45" fill="#761414" stroke="#111" stroke-width="0.7"/>
<circle cx="235.50" cy="344.70" r="2.45" fill="#761414" stroke="#111" stroke-width="0.7"/>
<circle cx="244.80" cy="347.30" r="2.45" fill="#761414" stroke="#111" stroke-width="0.7"/>
<circle cx="240.40" cy="356.40" r="2.45" fill="#761414" stroke="#111" stroke-width="0.7"/>
<circle cx="235.50" cy="362.20" r="2.45" fill="#761414" stroke="#111" stroke-width="0.7"/>
<circle cx="244.80" cy="361.60" r="2.45" fill="#761414" stroke="#111" stroke-width="0.7"/>
<line x1="240.20" y1="350.80" x2="240.20" y2="342.00" stroke="#222" stroke-width="0.9" />
<line x1="236.70" y1="342.00" x2="243.70" y2="342.00" stroke="#222" stroke-width="0.9" />
<line x1="236.70" y1="350.80" x2="243.70" y2="350.80" stroke="#222" stroke-width="0.9" />
<text transform="translate(172.50,330.20) rotate(-90)" x="0" y="0" font-size="7.35" text-anchor="middle" fill="#1a1a1a" stroke="#1a1a1a" stroke-width="0.1">%CD8<tspan font-size="5.14" dy="-2.57">+</tspan><tspan dy="2.57"> (of CD45</tspan><tspan font-size="5.14" dy="-2.57">+</tspan><tspan dy="2.57">)</tspan></text>
<polyline points="197.30,301.30 197.30,291.50 240.40,291.50 240.40,323.10" fill="none" stroke="#444" stroke-width="0.9" stroke-linejoin="round" />
<text x="218.85" y="291.70" font-size="8.6" text-anchor="middle" font-weight="bold" fill="#1a1a1a" stroke="#1a1a1a" stroke-width="0.1" >*</text>
<polyline points="197.30,341.00 197.30,307.50 219.00,307.50 219.00,313.00" fill="none" stroke="#444" stroke-width="0.9" stroke-linejoin="round" />
<text x="208.15" y="307.70" font-size="8.6" text-anchor="middle" font-weight="bold" fill="#1a1a1a" stroke="#1a1a1a" stroke-width="0.1" >**</text>
<text x="266.90" y="270.60" font-size="12.8" text-anchor="start" font-weight="bold" fill="#111" stroke="#111" stroke-width="0.1" >G</text>
<text x="368.00" y="265.50" font-size="8.65" text-anchor="middle" font-weight="bold" fill="#111" stroke="#111" stroke-width="0.1" >Ipilimumab in B16</text>
<line x1="297.40" y1="294.90" x2="297.40" y2="380.90" stroke="#333" stroke-width="0.9" />
<line x1="296.90" y1="380.40" x2="360.00" y2="380.40" stroke="#333" stroke-width="0.9" />
<line x1="294.90" y1="380.40" x2="297.40" y2="380.40" stroke="#333" stroke-width="0.9" />
<text x="293.90" y="383.10" font-size="7.6" text-anchor="end" font-weight="normal" fill="#1a1a1a" stroke="#1a1a1a" stroke-width="0.1" >0</text>
<line x1="294.90" y1="359.15" x2="297.40" y2="359.15" stroke="#333" stroke-width="0.9" />
<text x="293.90" y="361.85" font-size="7.6" text-anchor="end" font-weight="normal" fill="#1a1a1a" stroke="#1a1a1a" stroke-width="0.1" >10</text>
<line x1="294.90" y1="337.90" x2="297.40" y2="337.90" stroke="#333" stroke-width="0.9" />
<text x="293.90" y="340.60" font-size="7.6" text-anchor="end" font-weight="normal" fill="#1a1a1a" stroke="#1a1a1a" stroke-width="0.1" >20</text>
<line x1="294.90" y1="316.65" x2="297.40" y2="316.65" stroke="#333" stroke-width="0.9" />
<text x="293.90" y="319.35" font-size="7.6" text-anchor="end" font-weight="normal" fill="#1a1a1a" stroke="#1a1a1a" stroke-width="0.1" >30</text>
<line x1="294.90" y1="295.40" x2="297.40" y2="295.40" stroke="#333" stroke-width="0.9" />
<text x="293.90" y="298.10" font-size="7.6" text-anchor="end" font-weight="normal" fill="#1a1a1a" stroke="#1a1a1a" stroke-width="0.1" >40</text>
<rect x="301.60" y="331.60" width="14.0" height="48.80" fill="#727272" stroke="#222" stroke-width="0.9"/>
<line x1="308.60" y1="380.40" x2="308.60" y2="382.90" stroke="#333" stroke-width="0.9" />
<circle cx="303.70" cy="315.90" r="2.45" fill="#0d0d0d" stroke="#111" stroke-width="0.7"/>
<circle cx="313.50" cy="312.60" r="2.45" fill="#0d0d0d" stroke="#111" stroke-width="0.7"/>
<circle cx="308.40" cy="324.40" r="2.45" fill="#0d0d0d" stroke="#111" stroke-width="0.7"/>
<circle cx="303.70" cy="334.50" r="2.45" fill="#0d0d0d" stroke="#111" stroke-width="0.7"/>
<circle cx="313.50" cy="334.50" r="2.45" fill="#0d0d0d" stroke="#111" stroke-width="0.7"/>
<circle cx="303.70" cy="338.70" r="2.45" fill="#0d0d0d" stroke="#111" stroke-width="0.7"/>
<circle cx="313.50" cy="341.20" r="2.45" fill="#0d0d0d" stroke="#111" stroke-width="0.7"/>
<circle cx="308.40" cy="350.50" r="2.45" fill="#0d0d0d" stroke="#111" stroke-width="0.7"/>
<line x1="308.60" y1="335.80" x2="308.60" y2="327.50" stroke="#222" stroke-width="0.9" />
<line x1="305.10" y1="327.50" x2="312.10" y2="327.50" stroke="#222" stroke-width="0.9" />
<line x1="305.10" y1="335.80" x2="312.10" y2="335.80" stroke="#222" stroke-width="0.9" />
<rect x="323.20" y="332.80" width="14.0" height="47.60" fill="#88caf5" stroke="#222" stroke-width="0.9"/>
<line x1="330.20" y1="380.40" x2="330.20" y2="382.90" stroke="#333" stroke-width="0.9" />
<circle cx="330.30" cy="315.40" r="2.45" fill="#2f88d2" stroke="#111" stroke-width="0.7"/>
<circle cx="325.30" cy="326.00" r="2.45" fill="#2f88d2" stroke="#111" stroke-width="0.7"/>
<circle cx="334.90" cy="324.40" r="2.45" fill="#2f88d2" stroke="#111" stroke-width="0.7"/>
<circle cx="330.30" cy="328.60" r="2.45" fill="#2f88d2" stroke="#111" stroke-width="0.7"/>
<circle cx="334.90" cy="330.30" r="2.45" fill="#2f88d2" stroke="#111" stroke-width="0.7"/>
<circle cx="325.60" cy="332.80" r="2.45" fill="#2f88d2" stroke="#111" stroke-width="0.7"/>
<circle cx="329.80" cy="337.00" r="2.45" fill="#2f88d2" stroke="#111" stroke-width="0.7"/>
<circle cx="327.30" cy="341.20" r="2.45" fill="#2f88d2" stroke="#111" stroke-width="0.7"/>
<circle cx="332.40" cy="343.40" r="2.45" fill="#2f88d2" stroke="#111" stroke-width="0.7"/>
<circle cx="330.30" cy="352.10" r="2.45" fill="#2f88d2" stroke="#111" stroke-width="0.7"/>
<line x1="330.20" y1="336.00" x2="330.20" y2="329.50" stroke="#222" stroke-width="0.9" />
<line x1="326.70" y1="329.50" x2="333.70" y2="329.50" stroke="#222" stroke-width="0.9" />
<line x1="326.70" y1="336.00" x2="333.70" y2="336.00" stroke="#222" stroke-width="0.9" />
<rect x="344.50" y="331.90" width="14.0" height="48.50" fill="#c57f77" stroke="#222" stroke-width="0.9"/>
<line x1="351.50" y1="380.40" x2="351.50" y2="382.90" stroke="#333" stroke-width="0.9" />
<circle cx="351.20" cy="312.60" r="2.45" fill="#761414" stroke="#111" stroke-width="0.7"/>
<circle cx="351.20" cy="318.50" r="2.45" fill="#761414" stroke="#111" stroke-width="0.7"/>
<circle cx="351.20" cy="326.90" r="2.45" fill="#761414" stroke="#111" stroke-width="0.7"/>
<circle cx="346.70" cy="333.60" r="2.45" fill="#761414" stroke="#111" stroke-width="0.7"/>
<circle cx="355.90" cy="334.50" r="2.45" fill="#761414" stroke="#111" stroke-width="0.7"/>
<circle cx="351.20" cy="335.30" r="2.45" fill="#761414" stroke="#111" stroke-width="0.7"/>
<circle cx="346.70" cy="339.50" r="2.45" fill="#761414" stroke="#111" stroke-width="0.7"/>
<circle cx="355.90" cy="339.50" r="2.45" fill="#761414" stroke="#111" stroke-width="0.7"/>
<circle cx="351.20" cy="342.90" r="2.45" fill="#761414" stroke="#111" stroke-width="0.7"/>
<circle cx="351.20" cy="349.60" r="2.45" fill="#761414" stroke="#111" stroke-width="0.7"/>
<line x1="351.50" y1="334.80" x2="351.50" y2="329.00" stroke="#222" stroke-width="0.9" />
<line x1="348.00" y1="329.00" x2="355.00" y2="329.00" stroke="#222" stroke-width="0.9" />
<line x1="348.00" y1="334.80" x2="355.00" y2="334.80" stroke="#222" stroke-width="0.9" />
<text transform="translate(281.70,327.90) rotate(-90)" x="0" y="0" font-size="7.65" text-anchor="middle" fill="#1a1a1a" stroke="#1a1a1a" stroke-width="0.1">%FOXP3<tspan font-size="5.35" dy="-2.68">+</tspan><tspan dy="2.68"> (of CD4</tspan><tspan font-size="5.35" dy="-2.68">+</tspan><tspan dy="2.68">)</tspan></text>
<polyline points="308.60,296.90 308.60,282.10 351.30,282.10 351.30,311.70" fill="none" stroke="#444" stroke-width="0.9" stroke-linejoin="round" />
<text x="329.95" y="277.20" font-size="7.4" text-anchor="middle" font-weight="normal" fill="#1a1a1a" stroke="#1a1a1a" stroke-width="0.1" >ns</text>
<polyline points="308.60,306.20 308.60,302.00 330.30,302.00 330.30,310.90" fill="none" stroke="#444" stroke-width="0.9" stroke-linejoin="round" />
<text x="319.45" y="297.10" font-size="7.4" text-anchor="middle" font-weight="normal" fill="#1a1a1a" stroke="#1a1a1a" stroke-width="0.1" >ns</text>
<line x1="393.00" y1="294.70" x2="393.00" y2="380.90" stroke="#333" stroke-width="0.9" />
<line x1="392.50" y1="380.40" x2="454.90" y2="380.40" stroke="#333" stroke-width="0.9" />
<line x1="390.50" y1="380.40" x2="393.00" y2="380.40" stroke="#333" stroke-width="0.9" />
<text x="389.50" y="383.10" font-size="7.6" text-anchor="end" font-weight="normal" fill="#1a1a1a" stroke="#1a1a1a" stroke-width="0.1" >0</text>
<line x1="390.50" y1="359.10" x2="393.00" y2="359.10" stroke="#333" stroke-width="0.9" />
<text x="389.50" y="361.80" font-size="7.6" text-anchor="end" font-weight="normal" fill="#1a1a1a" stroke="#1a1a1a" stroke-width="0.1" >10</text>
<line x1="390.50" y1="337.80" x2="393.00" y2="337.80" stroke="#333" stroke-width="0.9" />
<text x="389.50" y="340.50" font-size="7.6" text-anchor="end" font-weight="normal" fill="#1a1a1a" stroke="#1a1a1a" stroke-width="0.1" >20</text>
<line x1="390.50" y1="316.50" x2="393.00" y2="316.50" stroke="#333" stroke-width="0.9" />
<text x="389.50" y="319.20" font-size="7.6" text-anchor="end" font-weight="normal" fill="#1a1a1a" stroke="#1a1a1a" stroke-width="0.1" >30</text>
<line x1="390.50" y1="295.20" x2="393.00" y2="295.20" stroke="#333" stroke-width="0.9" />
<text x="389.50" y="297.90" font-size="7.6" text-anchor="end" font-weight="normal" fill="#1a1a1a" stroke="#1a1a1a" stroke-width="0.1" >40</text>
<rect x="396.20" y="355.70" width="14.0" height="24.70" fill="#727272" stroke="#222" stroke-width="0.9"/>
<line x1="403.20" y1="380.40" x2="403.20" y2="382.90" stroke="#333" stroke-width="0.9" />
<circle cx="403.40" cy="344.10" r="2.45" fill="#0d0d0d" stroke="#111" stroke-width="0.7"/>
<circle cx="401.80" cy="354.40" r="2.45" fill="#0d0d0d" stroke="#111" stroke-width="0.7"/>
<circle cx="408.30" cy="355.70" r="2.45" fill="#0d0d0d" stroke="#111" stroke-width="0.7"/>
<circle cx="398.40" cy="359.00" r="2.45" fill="#0d0d0d" stroke="#111" stroke-width="0.7"/>
<circle cx="406.00" cy="358.30" r="2.45" fill="#0d0d0d" stroke="#111" stroke-width="0.7"/>
<circle cx="407.90" cy="361.60" r="2.45" fill="#0d0d0d" stroke="#111" stroke-width="0.7"/>
<circle cx="398.40" cy="365.40" r="2.45" fill="#0d0d0d" stroke="#111" stroke-width="0.7"/>
<circle cx="404.70" cy="361.60" r="2.45" fill="#0d0d0d" stroke="#111" stroke-width="0.7"/>
<line x1="403.20" y1="359.00" x2="403.20" y2="352.00" stroke="#222" stroke-width="0.9" />
<line x1="399.70" y1="352.00" x2="406.70" y2="352.00" stroke="#222" stroke-width="0.9" />
<line x1="399.70" y1="359.00" x2="406.70" y2="359.00" stroke="#222" stroke-width="0.9" />
<rect x="417.80" y="351.60" width="14.0" height="28.80" fill="#88caf5" stroke="#222" stroke-width="0.9"/>
<line x1="424.80" y1="380.40" x2="424.80" y2="382.90" stroke="#333" stroke-width="0.9" />
<circle cx="424.60" cy="317.60" r="2.45" fill="#2f88d2" stroke="#111" stroke-width="0.7"/>
<circle cx="424.60" cy="331.60" r="2.45" fill="#2f88d2" stroke="#111" stroke-width="0.7"/>
<circle cx="424.70" cy="341.20" r="2.45" fill="#2f88d2" stroke="#111" stroke-width="0.7"/>
<circle cx="420.20" cy="355.70" r="2.45" fill="#2f88d2" stroke="#111" stroke-width="0.7"/>
<circle cx="429.90" cy="353.80" r="2.45" fill="#2f88d2" stroke="#111" stroke-width="0.7"/>
<circle cx="429.90" cy="359.60" r="2.45" fill="#2f88d2" stroke="#111" stroke-width="0.7"/>
<circle cx="420.20" cy="362.20" r="2.45" fill="#2f88d2" stroke="#111" stroke-width="0.7"/>
<circle cx="429.90" cy="366.10" r="2.45" fill="#2f88d2" stroke="#111" stroke-width="0.7"/>
<circle cx="424.70" cy="372.60" r="2.45" fill="#2f88d2" stroke="#111" stroke-width="0.7"/>
<line x1="424.80" y1="357.00" x2="424.80" y2="345.40" stroke="#222" stroke-width="0.9" />
<line x1="421.30" y1="345.40" x2="428.30" y2="345.40" stroke="#222" stroke-width="0.9" />
<line x1="421.30" y1="357.00" x2="428.30" y2="357.00" stroke="#222" stroke-width="0.9" />
<rect x="439.40" y="344.30" width="14.0" height="36.10" fill="#c57f77" stroke="#222" stroke-width="0.9"/>
<line x1="446.40" y1="380.40" x2="446.40" y2="382.90" stroke="#333" stroke-width="0.9" />
<circle cx="446.00" cy="310.40" r="2.45" fill="#761414" stroke="#111" stroke-width="0.7"/>
<circle cx="446.00" cy="329.90" r="2.45" fill="#761414" stroke="#111" stroke-width="0.7"/>
<circle cx="444.20" cy="338.60" r="2.45" fill="#761414" stroke="#111" stroke-width="0.7"/>
<circle cx="448.70" cy="337.00" r="2.45" fill="#761414" stroke="#111" stroke-width="0.7"/>
<circle cx="441.60" cy="344.30" r="2.45" fill="#761414" stroke="#111" stroke-width="0.7"/>
<circle cx="446.10" cy="346.70" r="2.45" fill="#761414" stroke="#111" stroke-width="0.7"/>
<circle cx="441.60" cy="354.40" r="2.45" fill="#761414" stroke="#111" stroke-width="0.7"/>
<circle cx="451.00" cy="357.00" r="2.45" fill="#761414" stroke="#111" stroke-width="0.7"/>
<circle cx="446.10" cy="358.30" r="2.45" fill="#761414" stroke="#111" stroke-width="0.7"/>
<circle cx="446.10" cy="363.80" r="2.45" fill="#761414" stroke="#111" stroke-width="0.7"/>
<line x1="446.40" y1="348.50" x2="446.40" y2="340.00" stroke="#222" stroke-width="0.9" />
<line x1="442.90" y1="340.00" x2="449.90" y2="340.00" stroke="#222" stroke-width="0.9" />
<line x1="442.90" y1="348.50" x2="449.90" y2="348.50" stroke="#222" stroke-width="0.9" />
<text transform="translate(376.50,330.80) rotate(-90)" x="0" y="0" font-size="7.2" text-anchor="middle" fill="#1a1a1a" stroke="#1a1a1a" stroke-width="0.1">%CD8<tspan font-size="5.04" dy="-2.52">+</tspan><tspan dy="2.52"> (of CD45</tspan><tspan font-size="5.04" dy="-2.52">+</tspan><tspan dy="2.52">)</tspan></text>
<polyline points="403.60,293.80 403.60,280.10 446.00,280.10 446.00,304.70" fill="none" stroke="#444" stroke-width="0.9" stroke-linejoin="round" />
<text x="424.80" y="275.20" font-size="7.4" text-anchor="middle" font-weight="normal" fill="#1a1a1a" stroke="#1a1a1a" stroke-width="0.1" >ns</text>
<polyline points="403.60,340.00 403.60,299.50 424.90,299.50 424.90,314.00" fill="none" stroke="#444" stroke-width="0.9" stroke-linejoin="round" />
<text x="414.25" y="294.60" font-size="7.4" text-anchor="middle" font-weight="normal" fill="#1a1a1a" stroke="#1a1a1a" stroke-width="0.1" >ns</text>
</svg></body></html>
